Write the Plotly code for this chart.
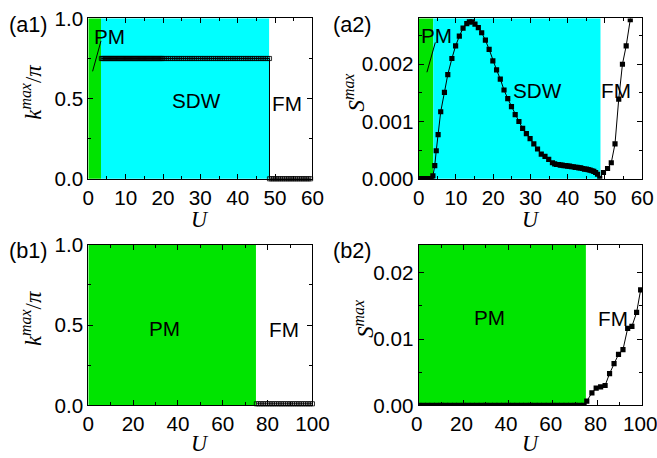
import numpy as np
import plotly.graph_objects as go

# ---------------- data ----------------
# (a1) k_max/pi vs U
a1_sdw_u = np.concatenate([np.arange(3.5, 20.0, 0.25), np.arange(20.0, 48.51, 0.5)])
a1_sdw_k = np.full(len(a1_sdw_u), 0.75)
a1_fm_u = np.arange(48.5, 59.8, 0.5)
a1_fm_k = np.zeros(len(a1_fm_u))
a1_pm_end, a1_sdw_end = 3.4, 48.4

# (a2) S_max vs U
a2_u = [0, 0.25, 0.5, 0.75, 1, 1.25, 1.5, 1.75, 2, 2.25, 2.5, 2.75, 3, 3.25, 3.5,
        3.8, 4.3, 4.7, 5.2, 5.9, 6.9, 7.8, 8.9, 9.9, 10.9, 11.9, 12.9, 13.6, 14.3,
        15.1, 16.0, 16.9, 17.9, 18.9, 19.9, 20.9, 21.9, 22.9, 23.9, 24.9, 25.9,
        26.9, 27.9, 28.9, 29.9, 30.9, 31.9, 32.9, 33.9, 34.9, 35.9,
        36.5, 37, 37.5, 38, 38.5, 39, 39.5, 40, 40.5, 41, 41.5, 42, 42.5, 43,
        43.5, 44, 44.5, 45, 45.5, 46, 46.5, 47, 47.5, 48, 48.6,
        49.6, 50.7, 51.7, 52.7, 53.7, 54.7, 55.7, 56.8, 57.8]
a2_s = [0, 0, 0, 0, 0, 0, 0, 0, 0, 0, 0, 0, 0, 0, 0,
        0.00005, 0.00023, 0.00049, 0.00077, 0.00117, 0.00151, 0.00182, 0.00210,
        0.00232, 0.00249, 0.00263, 0.00271, 0.00274, 0.00274,
        0.00270, 0.00264, 0.00255, 0.00242, 0.00226, 0.00206, 0.00190, 0.00174,
        0.00155, 0.00140, 0.00126, 0.00112, 0.00100, 0.00088, 0.00079, 0.00070,
        0.00061, 0.00052, 0.00043, 0.00039, 0.00034, 0.00028,
        0.00026, 0.00025, 0.00025, 0.00024, 0.00024, 0.00023, 0.00023, 0.00022,
        0.00022, 0.00021, 0.00021, 0.00020, 0.00020, 0.00019, 0.00019, 0.00018,
        0.00017, 0.00017, 0.00016, 0.00015, 0.00014, 0.00013, 0.00011, 0.00008,
        0.00001,
        0.00011, 0.00018, 0.00028, 0.00061, 0.00139, 0.00200, 0.00232, 0.00278,
        0.00350]
a2_pm_end, a2_sdw_end = 3.9, 48.8

# (b1) k_max/pi vs U
b1_fm_u = np.arange(75.0, 100.01, 1.0)
b1_fm_k = np.full(len(b1_fm_u), 0.01)
b1_pm_end = 74.8

# (b2) S_max vs U
b2_pm_u = np.arange(0.0, 74.1, 2.0)
b2_pm_s = np.zeros(len(b2_pm_u))
b2_fm_u = [75.2, 77.5, 79.4, 81.4, 83.4, 85.4, 87.4, 89.4, 91.4, 93.5, 95.4, 97.5, 99.3]
b2_fm_s = [0.00064, 0.0019, 0.0026, 0.0028, 0.0030, 0.0048, 0.0063, 0.0077,
           0.0084, 0.0116, 0.0119, 0.0140, 0.0174]
b2_pm_end = 74.8

GREEN = "rgb(0,228,0)"
CYAN = "rgb(0,255,255)"
FONT = "Liberation Sans, Arial, sans-serif"
SERIF = "Liberation Serif, Times New Roman, serif"

# the photographed picture appears scaled/offset relative to page pixels; compensate
S, BX, BY = 0.967, 4.4, 8.5
W, H = 682, 475
def px(x):
    return ((x - BX) / S) / W
def py(y):
    return 1 - ((y - BY) / S) / H
def fs(v):
    return v / S

TS = fs(20)

fig = go.Figure()

fig.add_trace(go.Scatter(x=list(a1_sdw_u) + list(a1_fm_u), y=list(a1_sdw_k) + list(a1_fm_k),
                         mode="lines+markers", line=dict(color="black", width=1),
                         marker=dict(symbol="square-open", size=fs(4), color="black", line=dict(width=0.8)),
                         xaxis="x", yaxis="y", cliponaxis=False, showlegend=False))
fig.add_trace(go.Scatter(x=a2_u, y=a2_s, mode="lines+markers", line=dict(color="black", width=1),
                         marker=dict(symbol="square", size=fs(5), color="black"),
                         xaxis="x2", yaxis="y2", showlegend=False))
fig.add_trace(go.Scatter(x=b1_fm_u, y=b1_fm_k, mode="lines+markers", line=dict(color="black", width=1),
                         marker=dict(symbol="square-open", size=fs(4), color="black", line=dict(width=0.8)),
                         xaxis="x3", yaxis="y3", cliponaxis=False, showlegend=False))
fig.add_trace(go.Scatter(x=list(b2_pm_u) + b2_fm_u, y=list(b2_pm_s) + b2_fm_s,
                         mode="lines+markers", line=dict(color="black", width=1),
                         marker=dict(symbol="square", size=fs(5), color="black"),
                         xaxis="x4", yaxis="y4", showlegend=False))

xl = [px(85), px(310)]
xr = [px(416.7), px(641)]
yt = [py(178), py(15)]
yb = [py(408.3), py(245)]

def xax(domain, rng, dtick, anchor):
    return dict(domain=domain, range=rng, dtick=dtick, tick0=0, ticks="inside", ticklen=5,
                tickcolor="black", showline=True, linecolor="black", linewidth=1, mirror="ticks",
                showgrid=False, zeroline=False, anchor=anchor,
                tickfont=dict(family=FONT, size=TS, color="black"),
                minor=dict(dtick=dtick / 2, ticks="inside", ticklen=3, tickcolor="black"))

def yax(domain, rng, dtick, fmt, anchor):
    d = xax(domain, rng, dtick, anchor)
    d["tickformat"] = fmt
    return d

x4 = xax(xr, [0, 100], 20, "y4")
x4["ticklabelshift"] = -2

fig.update_layout(
    width=W, height=H, margin=dict(l=0, r=0, t=0, b=0),
    paper_bgcolor="white", plot_bgcolor="white",
    xaxis=xax(xl, [0, 60], 10, "y"),
    yaxis=yax(yt, [0, 1], 0.5, ".1f", "x"),
    xaxis2=xax(xr, [0, 60], 10, "y2"),
    yaxis2=yax(yt, [0, 0.0028], 0.001, ".3f", "x2"),
    xaxis3=xax(xl, [0, 100], 20, "y3"),
    yaxis3=yax(yb, [0, 1], 0.5, ".1f", "x3"),
    xaxis4=x4,
    yaxis4=yax(yb, [0, 0.0242], 0.01, ".2f", "x4"),
)

shapes = []
def rect(xref, yref, x0, x1, color):
    shapes.append(dict(type="rect", xref=xref, yref=yref, x0=x0, x1=x1, y0=0, y1=1,
                       fillcolor=color, line=dict(width=0), layer="below"))
def yd(yref):
    return yref + " domain"
rect("x", yd("y"), 0, a1_pm_end, GREEN)
rect("x", yd("y"), a1_pm_end, a1_sdw_end, CYAN)
rect("x2", yd("y2"), 0, a2_pm_end, GREEN)
rect("x2", yd("y2"), a2_pm_end, a2_sdw_end, CYAN)
rect("x3", yd("y3"), 0, b1_pm_end, GREEN)
rect("x4", yd("y4"), 0, b2_pm_end, GREEN)
shapes.append(dict(type="line", xref="x", yref="y", x0=1.15, y0=0.67, x1=3.4, y1=0.86,
                   line=dict(color="black", width=1)))
shapes.append(dict(type="line", xref="x2", yref="y2", x0=2.2, y0=0.00186, x1=4.45, y1=0.00238,
                   line=dict(color="black", width=1)))
fig.update_layout(shapes=shapes)

ann = []
def txt(x, y, t, xref, yref, size=TS, **kw):
    ann.append(dict(x=x, y=y, xref=xref, yref=yref, text=t, showarrow=False,
                    font=dict(family=FONT, size=size, color="black"), **kw))
txt(5.6, 0.89, "PM", "x", "y")
txt(28.9, 0.49, "SDW", "x", "y")
txt(53.3, 0.47, "FM", "x", "y")
txt(4.8, 0.0025, "PM", "x2", "y2")
txt(31.9, 0.00154, "SDW", "x2", "y2")
txt(53.0, 0.00154, "FM", "x2", "y2")
txt(34.1, 0.48, "PM", "x3", "y3")
txt(87.4, 0.47, "FM", "x3", "y3")
txt(31.6, 0.0133, "PM", "x4", "y4")
txt(86.9, 0.0131, "FM", "x4", "y4")

for lab, x0, y0 in [("(a1)", 4.4, 21), ("(a2)", 330, 21), ("(b1)", 4.4, 251), ("(b2)", 330, 251)]:
    ann.append(dict(x=px(x0), y=py(y0), xref="paper", yref="paper", text=lab, showarrow=False,
                    xanchor="left", yanchor="middle", borderpad=0,
                    font=dict(family=FONT, size=fs(21), color="black")))

for xc, yc in [(197, 219), (529, 219), (197, 447), (529, 447)]:
    ann.append(dict(x=px(xc), y=py(yc), xref="paper", yref="paper", text="<i>U</i>", showarrow=False,
                    xanchor="center", yanchor="middle", borderpad=0,
                    font=dict(family=SERIF, size=fs(21.5), color="black")))
ktitle = "<i>k</i><sup><i>max</i></sup>/<i>π</i>"
stitle = "<i>S</i><sup><i>max</i></sup>"
for t, xc, yc in [(ktitle, 28, 90), (stitle, 352, 90), (ktitle, 28, 320), (stitle, 362, 320)]:
    ann.append(dict(x=px(xc), y=py(yc), xref="paper", yref="paper", text=t, showarrow=False,
                    textangle=-90, xanchor="center", yanchor="middle",
                    font=dict(family=SERIF, size=fs(22), color="black")))
fig.update_layout(annotations=ann)

fig.write_html("out.html", config={"displayModeBar": False},
               post_script="document.body.style.margin='0';")
